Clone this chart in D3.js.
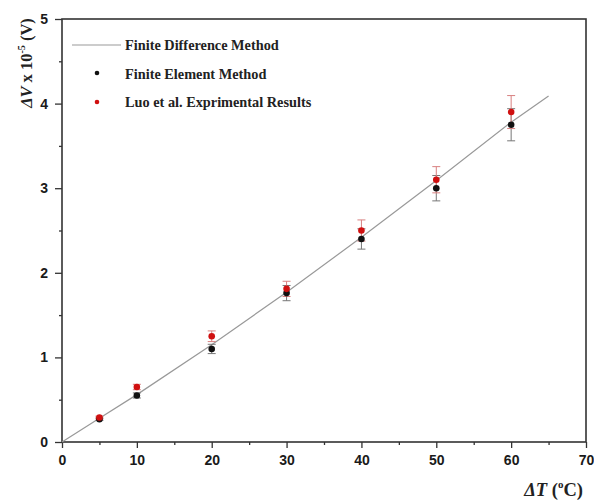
<!DOCTYPE html>
<html lang="en">
<head>
<meta charset="UTF-8">
<title>Delta V vs Delta T</title>
<script src="https://cdn.jsdelivr.net/npm/d3@7"></script>
<style>
  body { margin: 0; background: #fff; }
  .tick text { font-family: "Liberation Sans", Arial, sans-serif; font-weight: bold; font-size: 14px; fill: #1a1a1a; }
  .lab { font-family: "Liberation Serif", "Times New Roman", serif; font-weight: bold; fill: #222; }
</style>
</head>
<body>
<script>
// temperature difference (°C)
var fdmT = [0, 5, 10, 20, 30, 40, 50, 60, 65];
var fdmV = [0, 0.28, 0.56, 1.15, 1.77, 2.42, 3.09, 3.78, 4.09];

var ptT = [5, 10, 20, 30, 40, 50, 60];
var femV = [0.27, 0.55, 1.10, 1.76, 2.40, 3.00, 3.75];
var femErr = [0.014, 0.03, 0.055, 0.09, 0.12, 0.15, 0.19];
var expV = [0.29, 0.65, 1.25, 1.81, 2.50, 3.10, 3.90];
var expErr = [0.015, 0.032, 0.063, 0.09, 0.125, 0.155, 0.195];

var xTicks = [0, 10, 20, 30, 40, 50, 60, 70];
var yTicks = [0, 1, 2, 3, 4, 5];
var legendNames = ["Finite Difference Method", "Finite Element Method", "Luo et al. Exprimental Results"];

var W = 594, H = 501;
var m = {top: 19, right: 8, bottom: 59, left: 62};

var svg = d3.select("body").append("svg")
    .attr("width", W)
    .attr("height", H);

var x = d3.scaleLinear().domain([0, 70]).range([m.left, W - m.right]);
var y = d3.scaleLinear().domain([0, 5]).range([H - m.bottom, m.top]);

// minor ticks
var xMinor = d3.range(5, 70, 10);
var yMinor = d3.range(0.5, 5, 1);

svg.append("g")
    .attr("transform", "translate(0," + y(0) + ")")
    .call(d3.axisBottom(x).tickValues(xMinor).tickSize(3).tickFormat(""))
    .call(g => g.select(".domain").remove())
    .call(g => g.selectAll("line").attr("stroke", "#333").attr("stroke-width", 1.3));

svg.append("g")
    .attr("transform", "translate(" + x(0) + ",0)")
    .call(d3.axisLeft(y).tickValues(yMinor).tickSize(3).tickFormat(""))
    .call(g => g.select(".domain").remove())
    .call(g => g.selectAll("line").attr("stroke", "#333").attr("stroke-width", 1.3));

var xAxis = svg.append("g")
    .attr("transform", "translate(0," + y(0) + ")")
    .call(d3.axisBottom(x).tickValues(xTicks).tickSize(6).tickPadding(7).tickFormat(d3.format("d")));
xAxis.select(".domain").remove();
xAxis.selectAll("line").attr("stroke", "#333").attr("stroke-width", 1.3);

var yAxis = svg.append("g")
    .attr("transform", "translate(" + x(0) + ",0)")
    .call(d3.axisLeft(y).tickValues(yTicks).tickSize(7).tickPadding(7).tickFormat(d3.format("d")));
yAxis.select(".domain").remove();
yAxis.selectAll("line").attr("stroke", "#333").attr("stroke-width", 1.3);

// frame
svg.append("rect")
    .attr("x", x(0)).attr("y", y(5))
    .attr("width", x(70) - x(0)).attr("height", y(0) - y(5))
    .attr("fill", "none").attr("stroke", "#333").attr("stroke-width", 1.6);

// FDM line
var line = d3.line().x(function (d, i) { return x(fdmT[i]); }).y(function (d) { return y(d); });
svg.append("path")
    .datum(fdmV)
    .attr("d", line)
    .attr("fill", "none")
    .attr("stroke", "#999")
    .attr("stroke-width", 1.2);

function errBars(vals, errs, col) {
    var g = svg.append("g").attr("stroke", col).attr("stroke-width", 1);
    vals.forEach(function (v, i) {
        var cx = x(ptT[i]);
        var lo = v - errs[i], hi = v + errs[i];
        g.append("line").attr("x1", cx).attr("x2", cx).attr("y1", y(lo)).attr("y2", y(hi));
        g.append("line").attr("x1", cx - 4).attr("x2", cx + 4).attr("y1", y(hi)).attr("y2", y(hi));
        g.append("line").attr("x1", cx - 4).attr("x2", cx + 4).attr("y1", y(lo)).attr("y2", y(lo));
    });
}
errBars(femV, femErr, "#777");
errBars(expV, expErr, "#d88080");

svg.append("g").selectAll("circle")
    .data(femV).enter().append("circle")
    .attr("cx", function (d, i) { return x(ptT[i]); })
    .attr("cy", function (d) { return y(d); })
    .attr("r", 3.3)
    .attr("fill", "#111");

svg.append("g").selectAll("circle")
    .data(expV).enter().append("circle")
    .attr("cx", function (d, i) { return x(ptT[i]); })
    .attr("cy", function (d) { return y(d); })
    .attr("r", 3.3)
    .attr("fill", "#d01010");

// legend
var lg = svg.append("g");
lg.append("line").attr("x1", 72).attr("x2", 121).attr("y1", 45).attr("y2", 45)
    .attr("stroke", "#999").attr("stroke-width", 1.2);
lg.append("circle").attr("cx", 97).attr("cy", 73).attr("r", 2.3).attr("fill", "#111");
lg.append("circle").attr("cx", 97).attr("cy", 102).attr("r", 2.3).attr("fill", "#d01010");
lg.selectAll("text").data(legendNames).enter().append("text")
    .attr("class", "lab")
    .attr("x", 125)
    .attr("y", function (d, i) { return 50 + i * 28.5; })
    .attr("font-size", 14.3)
    .text(function (d) { return d; });

// axis titles
var yt = svg.append("text").attr("class", "lab")
    .attr("font-size", 16.5)
    .attr("transform", "translate(32,63) rotate(-90)")
    .attr("text-anchor", "middle");
yt.append("tspan").attr("font-style", "italic").text("ΔV");
yt.append("tspan").text(" x 10");
yt.append("tspan").attr("font-size", 10).attr("dy", -7).text("-5");
yt.append("tspan").attr("dy", 7).text(" (V)");

var xt = svg.append("text").attr("class", "lab")
    .attr("font-size", 18.5)
    .attr("x", 583).attr("y", 496)
    .attr("text-anchor", "end");
xt.append("tspan").attr("font-style", "italic").text("ΔT");
xt.append("tspan").text(" (");
xt.append("tspan").attr("font-size", 11).attr("dy", -8).text("o");
xt.append("tspan").attr("dy", 8).text("C)");
</script>
</body>
</html>
